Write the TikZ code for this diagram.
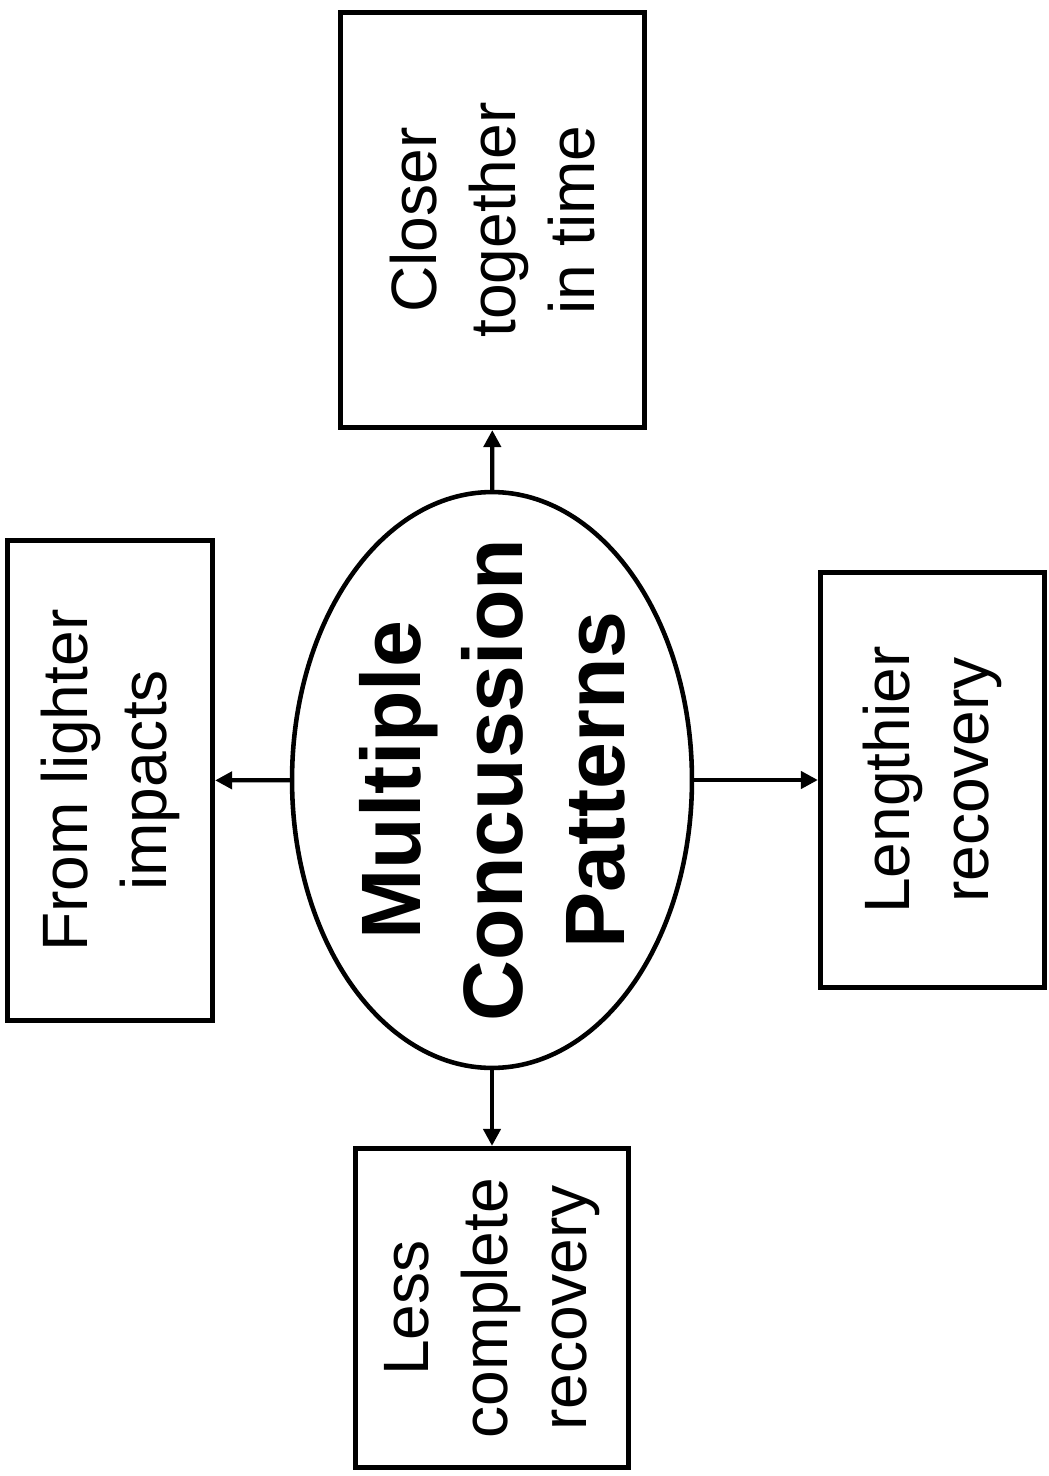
\documentclass[tikz,border=0pt]{standalone}
\usepackage{fontspec}
\setmainfont{Liberation Sans}
\usetikzlibrary{shapes.geometric,arrows.meta}

\tikzset{
	patternbox/.style={draw, line width=3pt, rotate=90, align=center, inner sep=0pt, font=\fontsize{36.5}{45}\selectfont},
	link/.style={-{Triangle[length=0.34cm,width=0.34cm]}, line width=2.4pt}
}

\begin{document}
\begin{tikzpicture}[x=0.02cm,y=-0.02cm]
	\useasboundingbox (0,0) rectangle (1048,1476);

	% core
	\node[draw, ellipse, line width=2.6pt, minimum width=8cm, minimum height=11.52cm, inner sep=0pt] (core) at (492,780) {};
	\node[rotate=90, align=center, font=\fontsize{48}{58}\selectfont\bfseries] (coretext) at (core) {Multiple\\Concussion\\Patterns};

	% patterns
	\node[patternbox, minimum width=8.3cm, minimum height=6.08cm] (closer) at (492.5,220) {Closer\\together\\in time};
	\node[patternbox, minimum width=9.6cm, minimum height=4.1cm] (lighter) at (110,780.5) {From lighter\\impacts};
	\node[patternbox, minimum width=8.3cm, minimum height=4.48cm] (lengthier) at (932.5,780) {Lengthier\\recovery};
	\node[patternbox, minimum width=6.38cm, minimum height=5.46cm] (less) at (492,1308) {Less\\complete\\recovery};

	% links
	\draw[link] (core) -- (closer);
	\draw[link] (core) -- (lighter);
	\draw[link] (core) -- (lengthier);
	\draw[link] (core) -- (less);

\end{tikzpicture}
\end{document}
